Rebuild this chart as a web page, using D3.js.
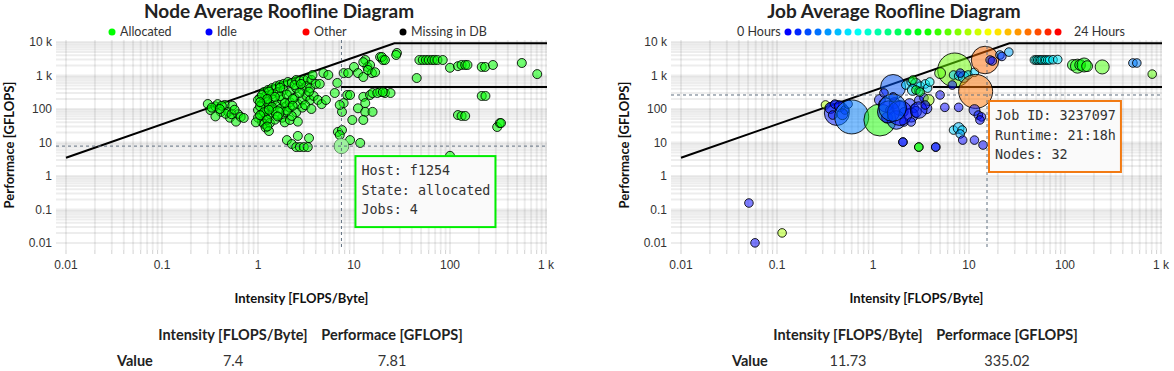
<!DOCTYPE html>
<html>
<head>
<meta charset="utf-8">
<script src="https://cdn.jsdelivr.net/npm/d3@7"></script>
<style>
  body { margin: 0; background: #fff; }
  text { font-family: Lato, 'Noto Sans', sans-serif; fill: #333; }
  .tick-label { font-family: 'Liberation Sans', Arial, sans-serif; font-size: 12px; }
  .tip { font-family: 'DejaVu Sans Mono', monospace; font-size: 13.4px; fill: #333; }
</style>
</head>
<body>
<svg id="chart" width="1174" height="371"></svg>
<script>
// ---- axes ----
const intensityTicks = [0.01, 0.1, 1, 10, 100, 1000];
const intensityLabels = ['0.01', '0.1', '1', '10', '100', '1 k'];
const perfTicks = [0.01, 0.1, 1, 10, 100, 1000, 10000];
const perfLabels = ['0.01', '0.1', '1', '10', '100', '1 k', '10 k'];

// ---- roofline parameters ----
const memBandwidth = 350;     // GB/s
const peakSimd = 9216;        // GFLOPS
const peakScalar = 454;       // GFLOPS
const scalarStartNode = 7.3;  // intensity where scalar roof begins (node chart)
const scalarStartJob = 4.2;   // (job chart)

// ---- node chart ----
const nodeStates = ['Allocated', 'Idle', 'Other', 'Missing in DB'];
const nodeStateColors = ['#00ff00', '#0000ff', '#ff0000', '#000000'];
// [intensity, performance, jobs]
const nodePoints = [
  [0.30,141,1],[0.32,93,1],[0.36,120,1],[0.38,140,1],[0.41,82,1],[0.45,132,1],[0.49,82,1],[0.51,55,1],
  [0.54,125,1],[0.59,42,1],[0.62,70,1],[0.66,58,1],[0.71,54,1],[0.42,125,1],[0.36,60,1],[0.46,72,1],
  [0.53,70,1],[0.33,110,1],[0.40,100,1],[0.57,95,1],
  [1.15,320,1],[1.27,370,1],[1.40,420,1],[1.55,480,1],[1.69,520,1],[1.85,560,1],[2.05,640,1],[2.25,600,1],
  [2.5,735,1],[2.73,690,1],[3.0,735,1],[3.3,790,1],[3.6,735,1],[1.2,245,1],[1.4,280,1],[1.6,320,1],
  [1.85,369,1],[2.15,320,1],[2.5,420,1],[2.9,369,1],[3.2,480,1],[3.5,420,1],[4.0,560,1],[1.05,215,1],
  [1.0,186,1],[1.1,140,1],[1.2,105,1],[1.33,140,1],[1.45,186,1],[1.6,140,1],[1.78,186,1],[1.95,120,1],
  [2.15,160,1],[2.4,215,1],[2.6,140,1],[2.9,186,1],[3.2,245,1],[3.5,186,1],[3.8,245,1],[4.2,186,1],
  [4.6,140,1],[5.1,186,1],[1.0,93,1],[1.1,70,1],[1.2,55,1],[1.33,70,1],[1.45,93,1],[1.78,55,1],
  [1.95,80,1],[2.15,110,1],[2.5,80,1],[2.9,110,1],[1.1,42,1],[1.15,36,1],[1.2,28,1],[1.33,38,1],
  [1.5,48,1],[1.0,55,1],[0.95,40,1],[1.9,40,1],[2.15,47,1],[2.6,42,1],[2.25,62,1],[1.05,120,1],
  [1.25,160,1],[1.7,240,1],[2.0,270,1],[2.3,200,1],[1.4,115,1],[1.7,100,1],[3.1,130,1],[3.6,100,1],
  [2.0,90,1],[1.15,80,1],[1.05,65,1],[1.25,48,1],[1.6,76,3],
  [1.3,330,1],[1.7,430,1],[2.4,520,1],[2.8,560,1],[1.1,260,1],[1.5,230,1],[2.7,300,1],[3.4,330,1],
  [1.25,200,1],[1.9,150,1],[2.3,125,1],[1.6,60,1],[1.05,160,1],[1.3,95,1],
  [2.0,11.8,1],[2.25,9,1],[2.5,7.3,1],[2.73,7.3,1],[3.0,7.3,1],[3.3,7.3,1],[2.6,15.7,1],[3.4,13.5,1],
  [1.3,22,1],[1.25,30,1],
  [3.7,1035,1],[4.8,1180,1],[5.4,1035,1],[6.7,600,1],[7.8,1180,1],[8.7,1180,1],[10,1800,1],[11,1180,1],
  [12.5,900,1],[13.1,2900,1],[13.8,1800,1],[14.7,2060,1],[15.4,1180,1],[18.7,3560,1],[20,2900,1],
  [28,4700,1],[27.5,4100,1],[12.5,2500,1],[14,1460,1],[16.6,1250,1],[4.4,560,1],
  [6.3,300,1],[7.8,150,1],[8.5,262,1],[9.1,262,1],[11,105,1],[12.5,230,1],[13.1,150,1],[14.7,262,1],
  [15.6,300,1],[18.7,320,1],[21,300,1],[24,300,1],[13.1,82,1],[15.6,82,1],[9.6,47,1],[12.5,47,1],
  [7.5,82,1],[7.1,132,1],[17.5,300,1],[20,320,1],[6.8,20.7,1],[7.5,23.5,1],[7.1,16.7,1],[9.1,11.8,1],
  [11.6,9.7,1],[7.4,7.81,4],
  [48,2900,1],[52,2900,1],[56,2900,1],[60,2900,1],[65,2900,1],[69,2900,1],[74,2900,1],[84,2900,1],
  [100,1700,1],[121,1900,1],[132,2060,1],[144,2060,1],[152,2060,1],[214,1800,1],[232,1800,1],
  [280,2060,1],[560,2360,1],[810,1100,1],[45,840,1],[19.5,3560,1],[21,2900,1],[214,245,1],[234,245,1],
  [121,66,1],[132,62,1],[144,62,1],[310,29,1],[330,38,1],[340,38,1],[100,4.0,1]
];
const nodeHover = [7.4, 7.81, 4];
const nodeTooltip = ['Host: f1254', 'State: allocated', 'Jobs: 4'];
const nodeTable = ['7.4', '7.81'];

// ---- job chart ----
const legendSteps = 28;
// [intensity, performance, runtime hours, nodes]
const jobPoints = [
  [0.051,0.156,0,1],[0.059,0.0101,0,1],[0.113,0.02,16,1],
  [0.32,132,16,1],[0.42,76,0.5,16],[0.36,107,0.5,2],[0.40,140,0.5,1],[0.45,120,0.3,2],[0.51,93,0.5,1],
  [0.55,140,1,1],[0.38,66,0.5,1],[0.48,70,0.3,2],[0.60,58,3,32],
  [1.18,47,12.5,28],[1.62,454,2,16],
  [1.18,186,0.5,2],[1.35,132,0.5,4],[1.5,93,0.3,1],[1.68,150,0.5,2],[1.9,105,1,4],[2.1,82,0.5,1],
  [2.4,140,0.5,2],[2.7,105,1,1],[3.0,186,0.5,1],[1.4,55,0.5,2],[1.75,47,1,8],[2.1,41,0.5,1],
  [2.5,66,0.5,4],[2.8,82,1,2],[1.62,230,0.5,1],[3.4,215,0.3,1],[3.6,105,0.5,2],[1.3,300,0.5,1],
  [1.45,82,0.5,12],[1.9,76,0.3,16],[2.5,41,0.5,1],[3.0,93,0.5,6],[1.6,110,2.5,20],
  [2.2,520,5,1],[2.5,640,5.5,1],[2.8,560,5,2],[3.1,480,6,1],[3.5,560,5.5,1],[3.7,420,5,1],
  [3.9,640,6,1],[2.6,369,5,2],[3.0,340,4.5,1],[2.6,735,12,1],[2.8,369,12,1],[3.1,320,11,1],
  [3.8,186,15.5,2],[3.5,132,0,1],
  [7.1,1460,14.5,32],[5.0,1180,14,2],
  [6.9,1035,4.5,1],[7.8,970,5,1],[8.8,900,4.5,2],[9.8,1035,5,1],[8.1,1180,0.5,1],[11.4,1250,5,1],
  [6.7,520,0,1],
  [14.7,2900,21.5,20],[11.73,335.02,21.3,32],
  [16.6,2900,0.5,1],[17.5,2700,0.3,1],[21,4100,3,1],[26,5000,4,1],[22,3700,1,1],
  [5.0,262,0,1],[5.6,112,0,1],[7.8,112,0,1],[11.4,93,0.5,2],[12.5,66,0.5,1],[13.5,58,0,1],
  [6.9,23.5,5,1],[7.8,27,4.5,2],[8.5,23.5,5,1],[8.1,18,4,1],
  [8.6,11.8,0,1],[11.4,11.8,0,1],[14,8.4,0,1],[13,47,0,1],
  [2.05,10.3,0.5,1],[2.05,10.3,0.5,1],[3.0,7.3,12,1],[3.0,7.3,12,1],[4.5,7.3,0.5,1],[4.5,7.3,0.5,1],
  [48,2900,6,1],[50,2900,6.5,1],[52,2900,6,1],[54,2900,6.5,1],[56,2900,6,1],[58,2900,6,1],
  [61,2900,6,1],[63,2900,6.5,1],[66,2900,6,1],[69,2900,5.5,1],[75,2950,5.5,1],[84,3000,5.5,1],
  [121,2060,12,2],[135,1900,12.5,4],[144,2060,11.5,2],[158,2060,12,4],[170,1900,12.5,2],
  [244,1800,13.5,4],[510,2360,3,1],[560,2360,3,1],[810,1100,14,1]
];
const jobCursor = [15.4, 262];
const jobTooltip = ['Job ID: 3237097', 'Runtime: 21:18h', 'Nodes: 32'];
const jobTable = ['11.73', '335.02'];

const tableHeaders = ['Intensity [FLOPS/Byte]', 'Performace [GFLOPS]'];

// ---- drawing ----
const svg = d3.select('#chart');
const plot = { left: 56, right: 547, top: 40, bottom: 250 };
const hue = t => d3.hsl(240 * (1 - t), 1, 0.5).toString();

function roofline(offset, cfg) {
  const g = svg.append('g').attr('transform', `translate(${offset},0)`);
  const x = d3.scaleLog().domain([0.01, 1000]).range([66, 546]);
  const y = d3.scaleLog().domain([0.01, 10000]).range([243, 42]);

  g.append('text').attr('x', 279).attr('y', 18).attr('text-anchor', 'middle')
    .style('font-size', '19px').style('font-weight', 'bold').style('fill', '#222')
    .text(cfg.title);

  // grid
  const grid = g.append('g').attr('stroke', 'rgba(0,0,0,0.07)').attr('stroke-width', 2);
  grid.selectAll('.h').data(y.ticks()).join('line')
    .attr('x1', plot.left).attr('x2', plot.right)
    .attr('y1', d => y(d)).attr('y2', d => y(d));
  grid.selectAll('.v').data(x.ticks()).join('line')
    .attr('x1', d => x(d)).attr('x2', d => x(d))
    .attr('y1', plot.top).attr('y2', plot.bottom);
  g.append('g').attr('stroke', 'rgba(0,0,0,0.18)').attr('stroke-width', 1)
    .selectAll('line').data(x.ticks()).join('line')
    .attr('x1', d => x(d)).attr('x2', d => x(d))
    .attr('y1', plot.bottom).attr('y2', plot.bottom + 4);

  // tick labels
  g.selectAll('.xl').data(intensityTicks).join('text').attr('class', 'tick-label')
    .attr('x', d => x(d)).attr('y', 269).attr('text-anchor', 'middle')
    .text((d, i) => intensityLabels[i]);
  g.selectAll('.yl').data(perfTicks).join('text').attr('class', 'tick-label')
    .attr('x', 52).attr('y', d => y(d) + 4).attr('text-anchor', 'end')
    .text((d, i) => perfLabels[i]);

  g.append('text').attr('x', (plot.left + plot.right) / 2).attr('y', 303)
    .attr('text-anchor', 'middle').style('font-size', '13px').style('font-weight', 'bold')
    .style('fill', '#111').text('Intensity [FLOPS/Byte]');
  g.append('text').attr('transform', `translate(14,${(plot.top + plot.bottom) / 2}) rotate(-90)`)
    .attr('text-anchor', 'middle').style('font-size', '13px').style('font-weight', 'bold')
    .style('fill', '#111').text('Performace [GFLOPS]');

  // roofs
  const knee = peakSimd / memBandwidth;
  const roof = g.append('g').attr('stroke', '#000').attr('stroke-width', 2).attr('fill', 'none');
  roof.append('path').attr('d', d3.line()([
    [x(0.01), y(0.01 * memBandwidth)], [x(knee), y(peakSimd)], [plot.right, y(peakSimd)]
  ]));
  roof.append('line').attr('x1', x(cfg.scalarStart)).attr('x2', plot.right)
    .attr('y1', y(peakScalar)).attr('y2', y(peakScalar));

  // points
  const clipId = 'clip' + offset;
  g.append('clipPath').attr('id', clipId).append('rect')
    .attr('x', plot.left).attr('y', plot.top)
    .attr('width', plot.right - plot.left).attr('height', plot.bottom - plot.top);
  g.append('g').attr('clip-path', `url(#${clipId})`)
    .selectAll('circle').data(cfg.points).join('circle')
    .attr('cx', d => x(d[0])).attr('cy', d => y(d[1])).attr('r', cfg.radius)
    .attr('fill', cfg.fill).attr('fill-opacity', cfg.opacity)
    .attr('stroke', '#000').attr('stroke-opacity', 0.85).attr('stroke-width', 1);

  if (cfg.hover) {
    g.append('circle').attr('cx', x(cfg.hover[0])).attr('cy', y(cfg.hover[1])).attr('r', 7.5)
      .attr('fill', '#9ef09e').attr('stroke', 'rgba(0,0,0,0.3)');
  }

  // cursor
  const cx = x(cfg.cursor[0]), cy = y(cfg.cursor[1]);
  const cur = g.append('g').attr('stroke', '#607080').attr('stroke-width', 1)
    .attr('stroke-dasharray', '3,3');
  cur.append('line').attr('x1', cx).attr('x2', cx).attr('y1', plot.top).attr('y2', plot.bottom);
  cur.append('line').attr('x1', plot.left).attr('x2', plot.right).attr('y1', cy).attr('y2', cy);

  // tooltip
  const tip = g.append('g').attr('transform', `translate(${cx + cfg.tipOffset[0]},${cy + cfg.tipOffset[1]})`);
  const box = tip.append('rect').attr('fill', '#fafafa').attr('stroke', cfg.tipColor).attr('stroke-width', 2);
  const lines = tip.selectAll('text').data(cfg.tooltip).join('text').attr('class', 'tip')
    .attr('x', 6).attr('y', (d, i) => 19 + i * 19.6).text(d => d);
  let w = 0;
  lines.each(function () { w = Math.max(w, this.getComputedTextLength()); });
  box.attr('x', 0).attr('y', 0).attr('width', w + 11).attr('height', 71);

  // table
  const t = g.append('g').style('font-size', '14.5px');
  t.selectAll('.th').data(tableHeaders).join('text')
    .attr('x', (d, i) => [233, 392][i]).attr('y', 340).attr('text-anchor', 'middle')
    .style('font-weight', 'bold').style('fill', '#222').text(d => d);
  t.append('text').attr('x', 117).attr('y', 366).style('font-weight', 'bold')
    .style('fill', '#222').text('Value');
  t.selectAll('.td').data(cfg.table).join('text')
    .attr('x', (d, i) => [233, 392][i]).attr('y', 366).attr('text-anchor', 'middle')
    .text(d => d);

  return g;
}

// node chart
const nodeRadius = d3.scaleSqrt().domain([1, 4]).range([4.5, 7]);
const ng = roofline(0, {
  title: 'Node Average Roofline Diagram',
  points: nodePoints,
  radius: d => nodeRadius(d[2]),
  fill: () => nodeStateColors[0],
  opacity: 0.55,
  hover: nodeHover,
  cursor: nodeHover,
  scalarStart: scalarStartNode,
  tooltip: nodeTooltip, tipColor: '#00ee00', tipOffset: [14, 10],
  table: nodeTable
});
const nl = ng.append('g').selectAll('g').data(nodeStates).join('g')
  .attr('transform', (d, i) => `translate(${112 + i * 97},32)`);
nl.append('circle').attr('r', 3.5).attr('fill', (d, i) => nodeStateColors[i]);
nl.append('text').attr('x', 8).attr('y', 4).style('font-size', '12.5px').text(d => d);

// job chart
const jobRadius = d3.scaleSqrt().domain([1, 32]).range([4.3, 17]);
const jg = roofline(615, {
  title: 'Job Average Roofline Diagram',
  points: jobPoints,
  radius: d => jobRadius(d[3]),
  fill: d => hue(Math.min(d[2], 24) / 24),
  opacity: 0.5,
  hover: null,
  cursor: jobCursor,
  scalarStart: scalarStartJob,
  tooltip: jobTooltip, tipColor: '#f27a12', tipOffset: [2, 6],
  table: jobTable
});
const jl = jg.append('g').attr('transform', 'translate(0,32)');
jl.append('text').attr('x', 122).attr('y', 4).style('font-size', '12.5px').text('0 Hours');
jl.selectAll('circle').data(d3.range(legendSteps)).join('circle')
  .attr('cx', i => 173 + i * 10).attr('r', 3.5)
  .attr('fill', i => hue(i / (legendSteps - 1)));
jl.append('text').attr('x', 459).attr('y', 4).style('font-size', '12.5px').text('24 Hours');
</script>
</body>
</html>
